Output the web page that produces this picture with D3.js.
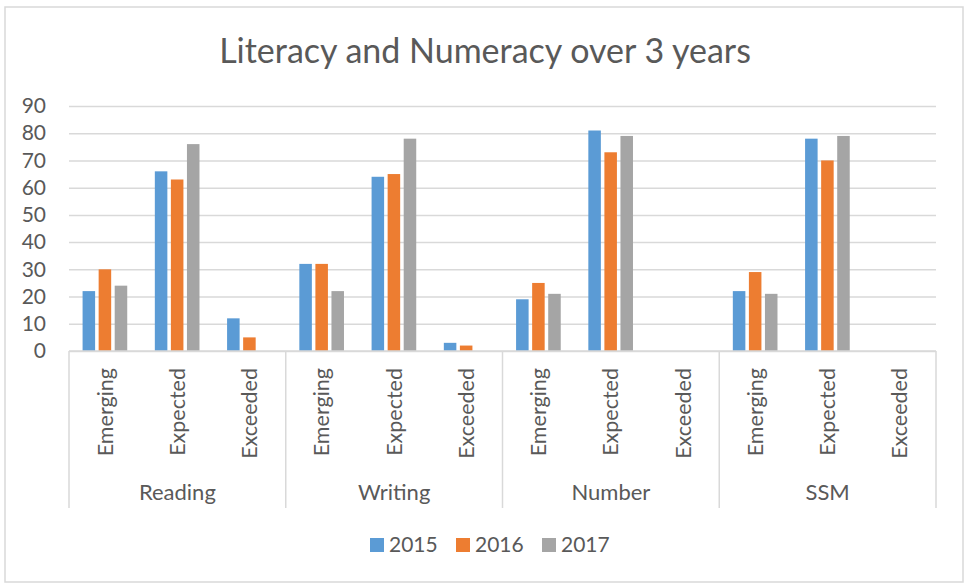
<!DOCTYPE html>
<html>
<head>
<meta charset="utf-8">
<script src="https://cdn.jsdelivr.net/npm/d3@7"></script>
<style>
  body { margin: 0; background: #fff; }
  text { font-family: Lato, "Open Sans", sans-serif; fill: #595959; }
</style>
</head>
<body>
<div id="chart"></div>
<script>
// data
const groups = ["Reading", "Writing", "Number", "SSM"];
const levels = ["Emerging", "Expected", "Exceeded"];
const years = ["2015", "2016", "2017"];
const colors = ["#5b9bd5", "#ed7d31", "#a5a5a5"];
const yTicks = [0, 10, 20, 30, 40, 50, 60, 70, 80, 90];

// one value per group/level, in the order of groups x levels
const values2015 = [22, 66, 12, 32, 64, 3, 19, 81, 0, 22, 78, 0];
const values2016 = [30, 63, 5, 32, 65, 2, 25, 73, 0, 29, 70, 0];
const values2017 = [24, 76, 0, 22, 78, 0, 21, 79, 0, 21, 79, 0];
const seriesValues = [values2015, values2016, values2017];

const width = 965;
const height = 584;
const margin = { top: 106, right: 29, bottom: 233, left: 69 };
const plotW = width - margin.left - margin.right;
const plotH = height - margin.top - margin.bottom;

const svg = d3.select("#chart")
    .append("svg")
    .attr("width", width)
    .attr("height", height);

// chart border
svg.append("rect")
    .attr("x", 5)
    .attr("y", 7)
    .attr("width", 958)
    .attr("height", 575)
    .attr("fill", "#fff")
    .attr("stroke", "#d9d9d9")
    .attr("stroke-width", 1.5);

// title
svg.append("text")
    .attr("x", 485)
    .attr("y", 63)
    .attr("text-anchor", "middle")
    .style("font-size", "34px")
    .text("Literacy and Numeracy over 3 years");

const g = svg.append("g")
    .attr("transform", `translate(${margin.left},${margin.top})`);

//build the category keys (group|level)
const cats = [];
groups.forEach(grp => {
    levels.forEach(lvl => cats.push(grp + "|" + lvl));
});

const x0 = d3.scaleBand().domain(cats).range([0, plotW]).padding(0);
const xg = d3.scaleBand().domain(groups).range([0, plotW]).padding(0);
const catW = x0.bandwidth();
const x1 = d3.scaleBand().domain(years)
    .range([catW * 0.188, catW * 0.806])
    .paddingInner(0.22)
    .paddingOuter(0);

const y = d3.scaleLinear().domain([0, 90]).range([plotH, 0]);

// gridlines + y labels
const yAxis = g.append("g")
    .call(d3.axisLeft(y).tickValues(yTicks).tickSize(-plotW).tickPadding(23));
yAxis.select(".domain").remove();
yAxis.selectAll(".tick line").attr("stroke", "#d9d9d9").attr("stroke-width", 1.5);
yAxis.selectAll(".tick text")
    .style("font-size", "21px")
    .style("font-family", "Lato, sans-serif")
    .attr("fill", "#595959");

// bars
years.forEach((yr, si) => {
    g.append("g")
        .selectAll("rect")
        .data(seriesValues[si])
        .enter()
        .append("rect")
        .attr("x", (d, i) => x0(cats[i]) + x1(yr))
        .attr("y", d => y(d))
        .attr("width", x1.bandwidth())
        .attr("height", d => y(0) - y(d))
        .attr("fill", colors[si]);
});

// bottom axis line
g.append("line")
    .attr("x1", 0).attr("x2", plotW)
    .attr("y1", plotH).attr("y2", plotH)
    .attr("stroke", "#d9d9d9").attr("stroke-width", 1.5);

// group separators
g.selectAll(".sep")
    .data(groups.concat(["end"]))
    .enter()
    .append("line")
    .attr("x1", (d, i) => i < groups.length ? xg(d) : plotW)
    .attr("x2", (d, i) => i < groups.length ? xg(d) : plotW)
    .attr("y1", plotH)
    .attr("y2", plotH + 157)
    .attr("stroke", "#d9d9d9")
    .attr("stroke-width", 1.5);

// level labels, rotated
g.selectAll(".lvl")
    .data(cats)
    .enter()
    .append("text")
    .attr("transform", d => `translate(${x0(d) + catW / 2},${plotH + 17}) rotate(-90)`)
    .attr("dy", "0.35em")
    .attr("text-anchor", "end")
    .style("font-size", "21.5px")
    .text(d => d.split("|")[1]);

// group labels
g.selectAll(".grp")
    .data(groups)
    .enter()
    .append("text")
    .attr("x", d => xg(d) + xg.bandwidth() / 2)
    .attr("y", plotH + 149)
    .attr("text-anchor", "middle")
    .style("font-size", "22px")
    .text(d => d);

// legend
const legendX = [370, 456, 542];
const legend = svg.append("g");
years.forEach((yr, i) => {
    legend.append("rect")
        .attr("x", legendX[i])
        .attr("y", 538)
        .attr("width", 14)
        .attr("height", 14)
        .attr("fill", colors[i]);
    legend.append("text")
        .attr("x", legendX[i] + 19)
        .attr("y", 552)
        .style("font-size", "21px")
        .text(yr);
});
</script>
</body>
</html>
